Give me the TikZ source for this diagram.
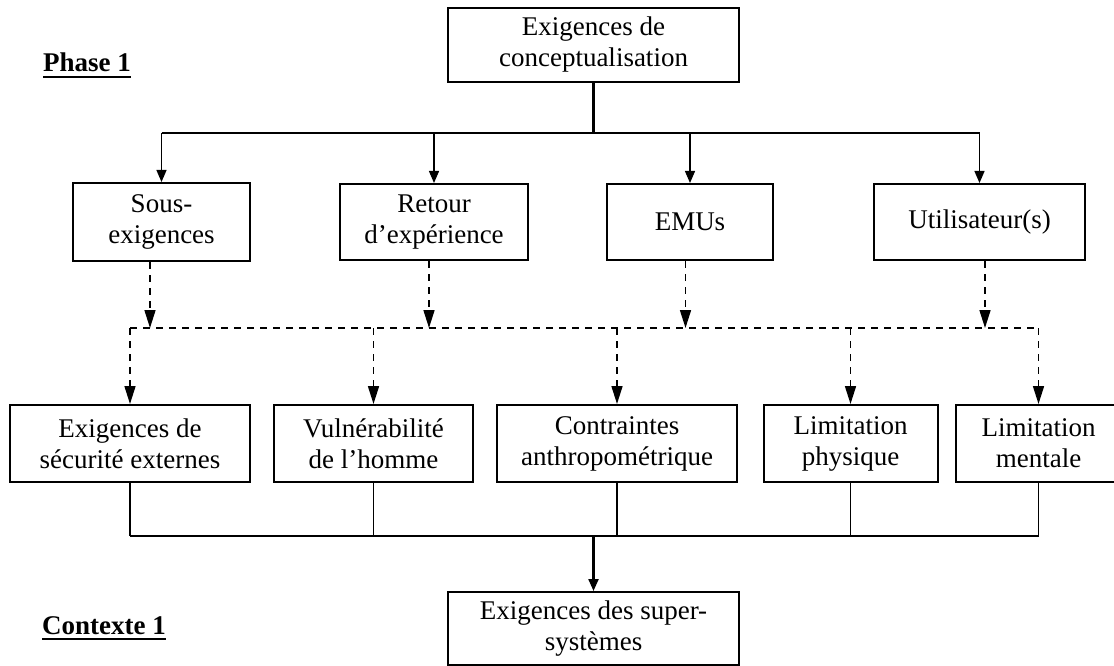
\documentclass[tikz,border=0pt]{standalone}
\usepackage{fontspec}
\setmainfont{Liberation Serif}
\usetikzlibrary{positioning,arrows.meta}
\newcommand{\souligne}[1]{\setbox0\hbox{#1}\rlap{\rule[-6pt]{\wd0}{2.2pt}}\box0}

\begin{document}
\begin{tikzpicture}[
      x=1pt, y=-1pt, >={Triangle[length=12pt,width=10pt]},
      bx/.style={draw,line width=2pt,align=center,inner sep=2pt,font=\fontsize{27}{31}\selectfont},
      r2/.style={bx,minimum height=76pt},
      r3/.style={bx,minimum height=77pt},
      fin/.style={line width=1.3pt},
      gras/.style={line width=2.2pt},
      tirl/.style={line width=1.6pt,dash pattern=on 7pt off 6pt},
      tir/.style={tirl,-{Triangle[length=18pt,width=11pt]}},
      ttl/.style={anchor=base west,inner sep=0pt,font=\fontsize{27}{31}\selectfont\bfseries},
    ]
  \useasboundingbox (0,0) rectangle (1114,666);
  \node[bx,minimum width=291pt,minimum height=74pt] (concept) at (593.5,45) {Exigences de\\conceptualisation};
  \node[r2,minimum width=177pt,minimum height=78pt] (sous) at (161.5,222) {Sous-\\exigences};
  \node[r2,minimum width=188pt,right=88pt of sous] (retour) {Retour\\d’expérience};
  \node[r2,minimum width=166pt,right=77pt of retour] (emus) {EMUs};
  \node[r2,minimum width=211pt,right=99pt of emus] (util) {Utilisateur(s)};
  \node[r3,minimum width=240pt] (ext) at (130,443.5) {Exigences de\\sécurité externes};
  \node[r3,minimum width=199pt,right=22pt of ext] (vuln) {Vulnérabilité\\de l’homme};
  \node[r3,minimum width=240pt,right=22pt of vuln] (contr) {Contraintes\\anthropométrique};
  \node[r3,minimum width=174pt,right=24.5pt of contr] (limp) {Limitation\\physique};
  \node[r3,minimum width=166pt,right=16pt of limp] (limm) {Limitation\\mentale};
  \node[bx,minimum width=291pt,minimum height=73pt] (supsys) at (593.5,628.5) {Exigences des super-\\systèmes};
  \node[ttl] (phase) at (43,72) {\souligne{Phase 1}};
  \node[ttl] (ctx) at (42,634) {\souligne{Contexte 1}};
  \coordinate (j1) at (593.5,133);
  \coordinate (j2) at (0,328);
  \coordinate (j3) at (593.5,536);
  \draw[gras] (concept) -- (j1);
  \draw[fin] (sous.north |- j1) -- (util.north |- j1);
  \draw[gras] (retour.north |- j1) -- (j1);
  \foreach \n in {sous,retour,emus,util}
    \draw[fin,->] (\n.north |- j1) -- (\n.north);
  \draw[tirl] (ext.north |- j2) -- (limm.north |- j2);
  \foreach \n/\d in {sous/-11.5,retour/-5,emus/-4.5,util/5.5}
    \draw[tir] ([xshift=\d pt]\n.south) -- ([xshift=\d pt]\n.south |- j2);
  \foreach \n in {ext,vuln,contr,limp,limm}
    \draw[tir] (\n.north |- j2) -- (\n.north);
  \foreach \n in {ext,vuln,contr,limp,limm}
    \draw[fin] (\n.south) -- (\n.south |- j3);
  \draw[fin] (ext.south |- j3) -- (limm.south |- j3);
  \draw[gras] (vuln.south |- j3) -- (limp.south |- j3);
  \draw[gras,->] (j3) -- (supsys);
\end{tikzpicture}
\end{document}
